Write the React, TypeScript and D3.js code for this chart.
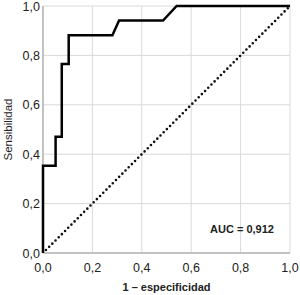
import React from "react";
import * as d3 from "d3";

const fpr = [0, 0, 0.051, 0.051, 0.076, 0.076, 0.104, 0.104, 0.281, 0.308, 0.486, 0.541, 1];
const tpr = [0, 0.353, 0.353, 0.471, 0.471, 0.765, 0.765, 0.882, 0.882, 0.941, 0.941, 1, 1];
const ticks = [0, 0.2, 0.4, 0.6, 0.8, 1];
const tickLabels = ["0,0", "0,2", "0,4", "0,6", "0,8", "1,0"];
const aucLabel = "AUC = 0,912";

export default function App() {
  const margin = { top: 6, right: 10, bottom: 42, left: 43 };
  const width = 247;
  const height = 247;

  const x = d3.scaleLinear().domain([0, 1]).range([0, width]);
  const y = d3.scaleLinear().domain([0, 1]).range([height, 0]);

  const pts: [number, number][] = fpr.map((f, i) => [f, tpr[i]]);
  const line = d3
    .line<[number, number]>()
    .x((d) => x(d[0]))
    .y((d) => y(d[1]));

  const font = "Liberation Sans, Arial, sans-serif";

  return (
    <svg
      width={300}
      height={295}
      style={{ position: "absolute", left: 0, top: 0, fontFamily: font }}
    >
      <rect width={300} height={295} fill="#fff" />
      <g transform={`translate(${margin.left},${margin.top})`}>
        {ticks.map((t) => (
          <g key={t}>
            <line x1={x(t)} x2={x(t)} y1={0} y2={height} stroke="#d9d9d9" strokeWidth={1} />
            <line x1={0} x2={width} y1={y(t)} y2={y(t)} stroke="#d9d9d9" strokeWidth={1} />
          </g>
        ))}
        <line x1={0} x2={0} y1={0} y2={height} stroke="#999" strokeWidth={1} />
        <line x1={0} x2={width} y1={height} y2={height} stroke="#999" strokeWidth={1} />
        <line
          x1={x(0.012)}
          y1={y(0.012)}
          x2={x(1)}
          y2={y(1)}
          stroke="#111"
          strokeWidth={2.6}
          strokeLinecap="round"
          strokeDasharray="0,4.5"
        />
        <path d={line(pts) ?? ""} fill="none" stroke="#000" strokeWidth={2.5} />
        {ticks.map((t, i) => (
          <text
            key={"x" + t}
            x={x(t)}
            y={height + 19}
            textAnchor="middle"
            fontSize={12.5}
            fill="#222"
          >
            {tickLabels[i]}
          </text>
        ))}
        {ticks.map((t, i) => (
          <text
            key={"y" + t}
            x={-3}
            y={y(t) + 4.5}
            textAnchor="end"
            fontSize={12.5}
            fill="#222"
          >
            {tickLabels[i]}
          </text>
        ))}
        <text
          x={x(0.935)}
          y={y(0.08)}
          textAnchor="end"
          fontSize={11}
          fontWeight="bold"
          fill="#222"
        >
          {aucLabel}
        </text>
      </g>
      <text
        x={margin.left + width / 2}
        y={291}
        textAnchor="middle"
        fontSize={11}
        fontWeight="bold"
        fill="#222"
      >
        1 – especificidad
      </text>
      <text
        transform={`translate(12,${margin.top + height / 2}) rotate(-90)`}
        textAnchor="middle"
        fontSize={11.5}
        fill="#222"
      >
        Sensibilidad
      </text>
    </svg>
  );
}
